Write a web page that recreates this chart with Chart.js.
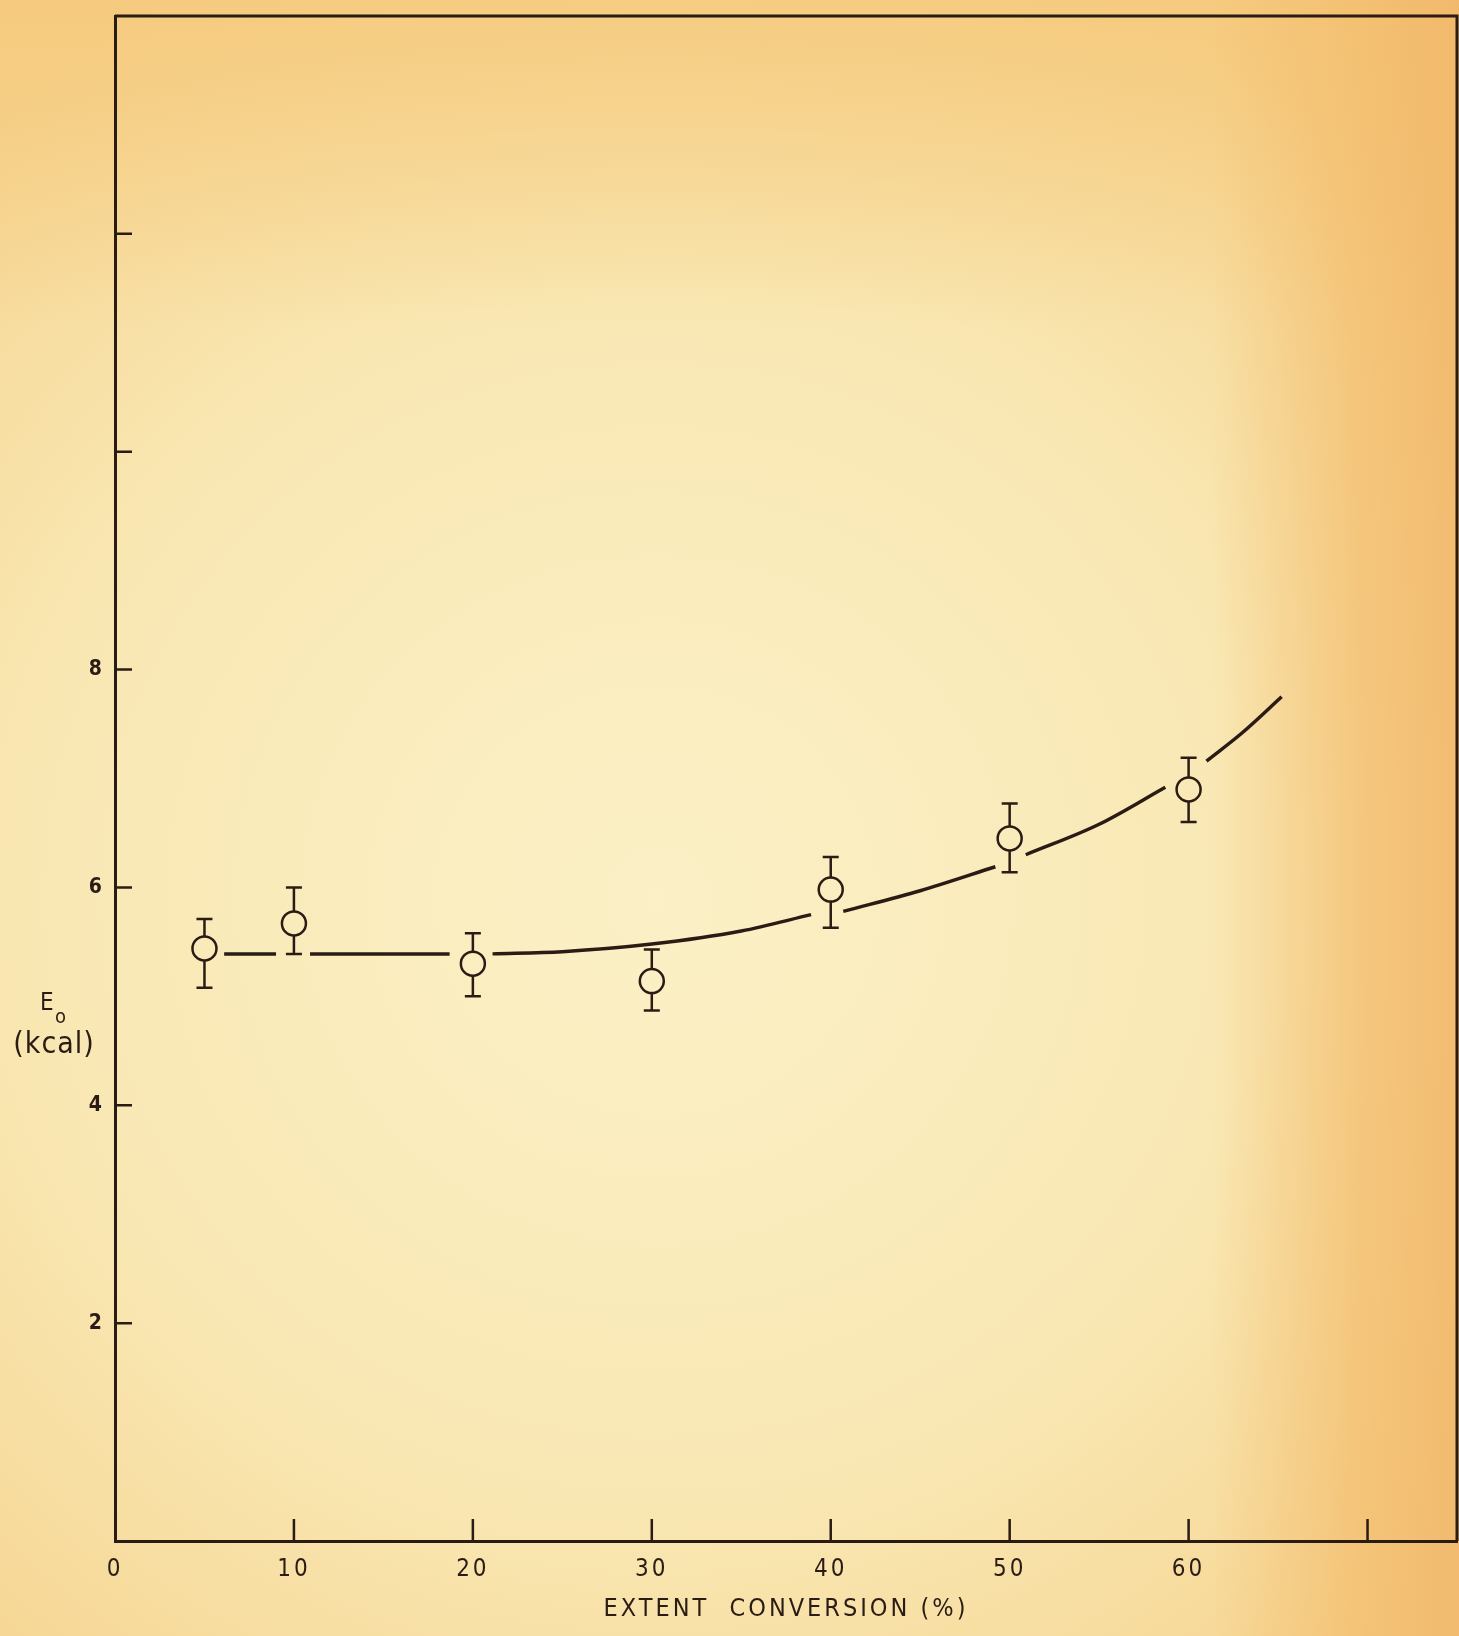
<!DOCTYPE html>
<html>
<head>
<meta charset="utf-8">
<script src="https://cdn.jsdelivr.net/npm/chart.js@4.4.1/dist/chart.umd.min.js"></script>
<style>
  html, body { margin: 0; padding: 0; }
  body {
    width: 1459px;
    height: 1636px;
    overflow: hidden;
    background:
      linear-gradient(to right, rgba(243,190,110,0) 83%, rgba(243,188,108,0.7) 93%, rgba(241,182,104,0.85) 100%),
      linear-gradient(to bottom, rgba(245,198,118,0.7) 0%, rgba(245,200,120,0) 20%),
      radial-gradient(ellipse 72% 62% at 45% 55%, #fbf0c6 0%, #f9e8b4 58%, #f6d592 100%);
  }
  canvas { display: block; }
</style>
</head>
<body>
<canvas id="chart" width="1459" height="1636"></canvas>
<script>
// measured points (extent conversion %, E0 kcal) with error bar ends
var conversion = [5, 10, 20, 30, 40, 50, 60];
var energy = [5.44, 5.67, 5.30, 5.14, 5.98, 6.45, 6.90];
var errHigh = [5.71, 6.00, 5.58, 5.43, 6.28, 6.77, 7.19];
var errLow = [5.08, 5.39, 5.00, 4.87, 5.63, 6.14, 6.60];

// hand drawn fit curve, broken where it meets the markers (null = gap)
var curveX = [6.1, 9.0, 9.9, 10.9, 18.7, 19.9, 21.1, 25, 30, 35, 38.9, 39.9, 40.7, 45, 49.2, 50, 50.9, 55, 58.7, 60, 61.0, 63, 65.2];
var curveY = [5.39, 5.39, null, 5.39, 5.39, null, 5.39, 5.41, 5.48, 5.60, 5.75, null, 5.78, 5.97, 6.19, null, 6.30, 6.58, 6.92, null, 7.16, 7.42, 7.75];

// axis ticks
var xTickMarks = [10, 20, 30, 40, 50, 60, 70];
var xTickLabels = [0, 10, 20, 30, 40, 50, 60];
var yTickMarks = [2, 4, 6, 8, 10, 12];
var yTickLabels = [2, 4, 6, 8];

var ink = '#2a1c14';
var labelFont = "'Liberation Sans Narrow', 'DejaVu Sans Condensed', 'DejaVu Sans', sans-serif";

function noEdgePadding(s) {
  s.paddingTop = 0; s.paddingBottom = 0; s.paddingLeft = 0; s.paddingRight = 0;
}

// lettering in the original is widely spaced
var spacing = {
  id: 'spacing',
  beforeDraw: function(chart) { chart.ctx.letterSpacing = '3px'; },
  afterDraw: function(chart) { chart.ctx.letterSpacing = '0px'; }
};

// error bars, drawn from the circle edge outwards
var errorBars = {
  id: 'errorBars',
  afterDatasetsDraw: function(chart) {
    var ctx = chart.ctx;
    var xs = chart.scales.x, ys = chart.scales.y;
    var r = 12, cap = 8;
    ctx.save();
    ctx.strokeStyle = ink;
    ctx.lineWidth = 2.5;
    for (var i = 0; i < conversion.length; i++) {
      var px = xs.getPixelForValue(conversion[i]);
      var pc = ys.getPixelForValue(energy[i]);
      var pt = ys.getPixelForValue(errHigh[i]);
      var pb = ys.getPixelForValue(errLow[i]);
      ctx.beginPath();
      ctx.moveTo(px, pt); ctx.lineTo(px, pc - r);
      ctx.moveTo(px, pc + r); ctx.lineTo(px, pb);
      ctx.moveTo(px - cap, pt); ctx.lineTo(px + cap, pt);
      ctx.moveTo(px - cap, pb); ctx.lineTo(px + cap, pb);
      ctx.stroke();
    }
    ctx.restore();
  }
};

// frame, inward tick marks and the horizontal y title
var frame = {
  id: 'frame',
  afterDraw: function(chart) {
    var ctx = chart.ctx;
    var a = chart.chartArea;
    var xs = chart.scales.x, ys = chart.scales.y;
    ctx.save();
    ctx.strokeStyle = ink;
    ctx.lineWidth = 3;
    ctx.beginPath();
    ctx.moveTo(a.left, a.top); ctx.lineTo(a.right, a.top); ctx.lineTo(a.right, a.bottom);
    ctx.stroke();
    ctx.lineWidth = 2.5;
    ctx.beginPath();
    xTickMarks.forEach(function(v) {
      var px = xs.getPixelForValue(v);
      ctx.moveTo(px, a.bottom); ctx.lineTo(px, a.bottom - 22);
    });
    yTickMarks.forEach(function(v) {
      var py = ys.getPixelForValue(v);
      ctx.moveTo(a.left, py); ctx.lineTo(a.left + 17, py);
    });
    ctx.stroke();

    ctx.fillStyle = ink;
    ctx.textBaseline = 'middle';
    ctx.textAlign = 'left';
    ctx.font = "24px " + labelFont;
    ctx.fillText('E', 40, 1004);
    ctx.font = "20px " + labelFont;
    ctx.fillText('o', 55, 1018);
    ctx.textAlign = 'center';
    ctx.font = "30px " + labelFont;
    ctx.letterSpacing = '1px';
    ctx.fillText('(kcal)', 54, 1045);
    ctx.restore();
  }
};

var ctx = document.getElementById('chart').getContext('2d');

new Chart(ctx, {
  type: 'scatter',
  data: {
    datasets: [
      {
        label: 'measured',
        data: conversion.map(function(x, i) { return { x: x, y: energy[i] }; }),
        showLine: false,
        pointStyle: 'circle',
        pointRadius: 12,
        pointBorderWidth: 2.5,
        pointBorderColor: ink,
        pointBackgroundColor: 'rgba(0,0,0,0)'
      },
      {
        label: 'fit',
        data: curveX.map(function(x, i) { return { x: x, y: curveY[i] }; }),
        showLine: true,
        spanGaps: false,
        pointRadius: 0,
        borderColor: ink,
        borderWidth: 3.5,
        cubicInterpolationMode: 'monotone'
      }
    ]
  },
  options: {
    responsive: false,
    animation: false,
    layout: { autoPadding: false, padding: { top: 16, right: 2, left: 0, bottom: 0 } },
    plugins: {
      legend: { display: false },
      tooltip: { enabled: false }
    },
    scales: {
      x: {
        type: 'linear',
        min: 0,
        max: 75,
        afterFit: function(s) { s.height = 95; noEdgePadding(s); },
        grid: { display: false },
        border: { display: true, color: ink, width: 3 },
        ticks: {
          stepSize: 10,
          padding: 6,
          color: ink,
          font: { family: labelFont, size: 24 },
          callback: function(v) { return xTickLabels.indexOf(v) >= 0 ? String(v) : ''; }
        },
        title: {
          display: true,
          text: 'EXTENT  CONVERSION (%)',
          color: ink,
          font: { family: labelFont, size: 25 },
          padding: { top: 0, bottom: 12 }
        }
      },
      y: {
        type: 'linear',
        min: 0,
        max: 14,
        afterFit: function(s) { s.width = 115; noEdgePadding(s); },
        grid: { display: false },
        border: { display: true, color: ink, width: 3 },
        ticks: {
          stepSize: 2,
          padding: 2,
          color: ink,
          font: { family: labelFont, size: 21, weight: 'bold' },
          callback: function(v) { return yTickLabels.indexOf(v) >= 0 ? String(v) : ''; }
        }
      }
    }
  },
  plugins: [spacing, errorBars, frame]
});
</script>
</body>
</html>
